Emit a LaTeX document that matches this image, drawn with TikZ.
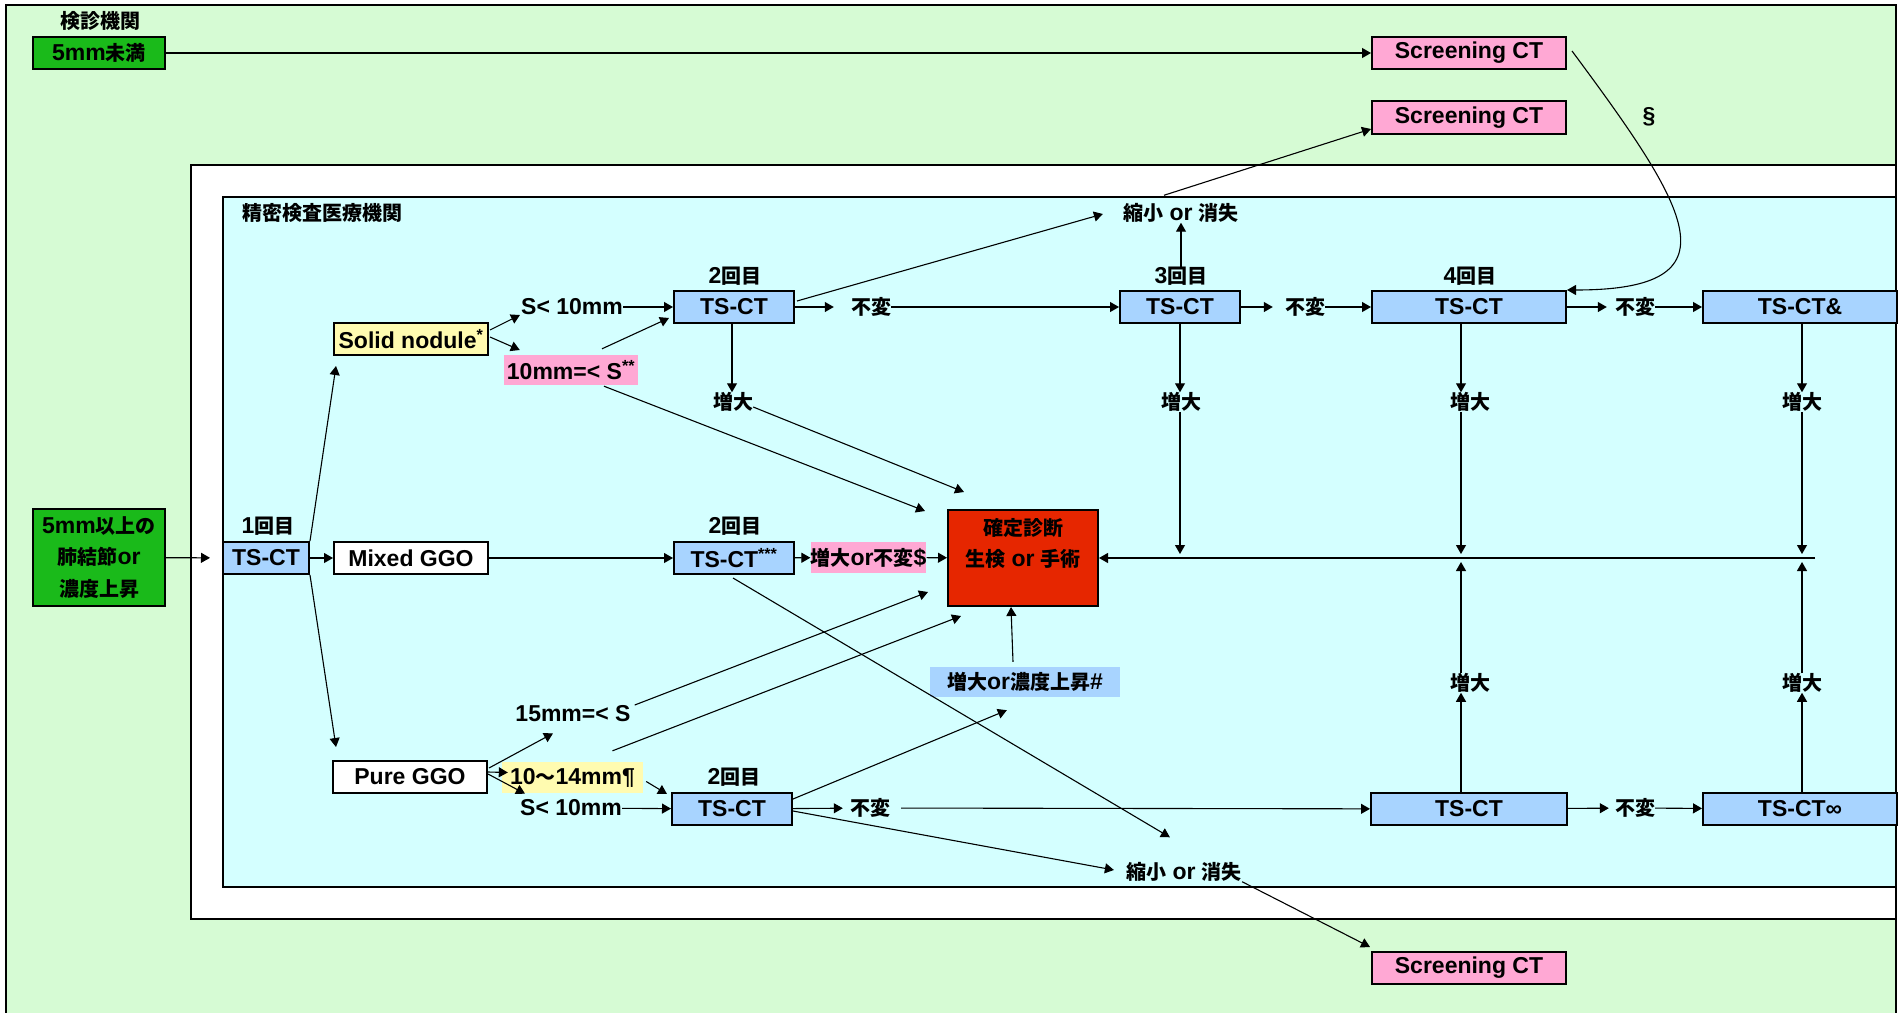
\documentclass[tikz,border=0pt]{standalone}
\usepackage{fontspec}
\setmainfont{Liberation Sans}[Scale=1.15]
\newfontfamily\jpfont{Noto Sans CJK JP}
\newcommand{\ja}[1]{{\jpfont #1}}
\usetikzlibrary{arrows.meta,calc}

\definecolor{bggreen}{RGB}{214,251,212}
\definecolor{bgcyan}{RGB}{212,255,255}
\definecolor{boxgreen}{RGB}{26,186,26}
\definecolor{ctblue}{RGB}{168,212,255}
\definecolor{scrpink}{RGB}{255,168,212}
\definecolor{dxred}{RGB}{230,38,0}
\definecolor{noteyel}{RGB}{255,251,176}

\tikzset{
  every node/.style={font=\fontsize{20}{24}\selectfont\bfseries, inner sep=0pt},
  box/.style={draw, line width=2pt, minimum height=32pt, align=center},
  ctbox/.style={box, fill=ctblue},
  scrbox/.style={box, fill=scrpink, minimum width=194pt},
  note/.style={minimum height=30pt},
  arr/.style={-{Triangle[length=9pt,width=10pt]}, line width=1.1pt},
}

\begin{document}
\begin{tikzpicture}[x=1pt,y=-1pt]
\useasboundingbox (0,0) rectangle (1898,1012);

% Frames
\begin{scope}
\clip (0,0) rectangle (1898,1012);
\draw[line width=2pt, fill=bggreen] (6,5) rectangle (1896,1040);
\draw[line width=2pt, fill=white] (191,165) rectangle (1896,919);
\draw[line width=2pt, fill=bgcyan] (223,197) rectangle (1896,887);
\end{scope}
\node (kenshin) at (100,21) {\ja{検診機関}};
\node (seimitsu) at (322,213) {\ja{精密検査医療機関}};

% Screening
\node[box, fill=boxgreen, minimum width=132pt] (small) at (99,53) {5mm\ja{未満}};
\node[scrbox] (scr1) at (1469,53) {Screening CT};
\node[scrbox, minimum height=33pt] (scr2) at (1469,117.5) {Screening CT};
\node[scrbox] (scr3) at (1469,968) {Screening CT};
\node (sect) at (1649,117) {§};

% First CT and types
\node[box, fill=boxgreen, minimum width=132pt, minimum height=97pt,
  font=\fontsize{20}{31.5}\selectfont\bfseries] (big) at (99,557.5)
  {5mm\ja{以上の}\\\ja{肺結節}or\\\ja{濃度上昇}};
\node[ctbox, minimum width=86pt] (ts1) at (266,558) {TS-CT};
\node (r1) at (268,526) {1\ja{回目}};
\node[box, fill=noteyel, minimum width=154pt] (solid) at (411,339) {Solid nodule\textsuperscript{*}};
\node[box, fill=white, minimum width=154pt] (mixed) at (411,558) {Mixed GGO};
\node[box, fill=white, minimum width=154pt] (pure) at (410,777) {Pure GGO};

% Size notes
\node (s10a) at (572,307) {S< 10mm};
\node[note, fill=scrpink, minimum width=134pt] (szS) at (571,370) {10mm=< S\textsuperscript{**}};
\node (s15) at (573,714) {15mm=< S};
\node[note, fill=noteyel, minimum width=141pt, minimum height=31pt] (y1014) at (572.5,777.5) {10\ja{〜}14mm¶};
\node (s10b) at (571,808) {S< 10mm};

% Top row
\node[ctbox, minimum width=120pt] (ts2a) at (734,307) {TS-CT};
\node (r2a) at (735,276) {2\ja{回目}};
\node (nc1) at (871,307) {\ja{不変}};
\node[ctbox, minimum width=120pt] (ts3) at (1180,307) {TS-CT};
\node (r3) at (1181,276) {3\ja{回目}};
\node (nc2) at (1305,307) {\ja{不変}};
\node[ctbox, minimum width=194pt] (ts4) at (1469,307) {TS-CT};
\node (r4) at (1470,276) {4\ja{回目}};
\node (nc3) at (1635,307) {\ja{不変}};
\node[ctbox, minimum width=194pt] (ts5) at (1800,307) {TS-CT\&};
\node (shrinkA) at (1181,213) {\ja{縮小} or \ja{消失}};
\node (up2) at (733,402) {\ja{増大}};
\node (up3) at (1181,402) {\ja{増大}};
\node (up4) at (1470,402) {\ja{増大}};
\node (up5) at (1802,402) {\ja{増大}};

% Middle row
\node[ctbox, minimum width=120pt] (ts2b) at (734,558) {TS-CT\textsuperscript{***}};
\node (r2b) at (735,526) {2\ja{回目}};
\node[note, fill=scrpink, minimum width=113pt, minimum height=31pt] (chg) at (868.5,557.5) {\ja{増大}or\ja{不変}\$};
\node[box, fill=dxred, minimum width=150pt, minimum height=96pt,
  font=\fontsize{20}{31}\selectfont\bfseries] (dx) at (1023,558)
  {\ja{確定診断}\\\ja{生検} or \ja{手術}\\\mbox{}};
\node[note, fill=ctblue, minimum width=190pt] (blue) at (1025,682) {\ja{増大}or\ja{濃度上昇}\#};

% Bottom row
\node[ctbox, minimum width=120pt] (ts2c) at (732,809) {TS-CT};
\node (r2c) at (734,777) {2\ja{回目}};
\node (nc4) at (870,808) {\ja{不変}};
\node[ctbox, minimum width=196pt] (tsb4) at (1469,809) {TS-CT};
\node (nc5) at (1635,808) {\ja{不変}};
\node[ctbox, minimum width=194pt] (tsb5) at (1800,809) {TS-CT∞};
\node (dn4) at (1470,683) {\ja{増大}};
\node (dn5) at (1802,683) {\ja{増大}};
\node (shrinkB) at (1184,872) {\ja{縮小} or \ja{消失}};

% Columns
\coordinate (col2) at (732,0);
\coordinate (col3) at (1180,0);
\coordinate (col4) at (1461,0);
\coordinate (col5) at (1802,0);
\coordinate (hr) at (1815,558);

% Screening arrows
\draw[arr] (small) -- (scr1);
\draw[arr] ($(scr1.east)+(5,-2)$) .. controls (1690,210) and (1740,290) .. (ts4.north east);
\draw[arr] ($(shrinkA.north)+(-17,-8)$) -- ($(scr2.south west)+(0,-6)$);
\draw[arr] (shrinkB.south east) -- ($(scr3.north west)+(-1,-4)$);

% First CT
\draw[arr, shorten >=12pt] (big) -- (ts1);
\draw[arr] (ts1) -- (mixed);
\draw[arr] (ts1.north east) -- ($(solid.south west)+(3,10)$);
\draw[arr] (ts1.south east) -- ($(pure.north west)+(4,-13)$);

% Solid nodule
\draw[arr] ($(solid.east)+(1,-9)$) -- ($(s10a.west)+(-1,8)$);
\draw[arr] ($(solid.east)+(1,-2)$) -- ($(szS.west)+(16,-20)$);
\draw[arr] (s10a) -- (ts2a);
\draw[arr] ($(szS.north)+(31,-6)$) -- ($(ts2a.south west)+(-4,-6)$);
\draw[arr] ($(szS.south)+(33,1)$) -- ($(dx.north west)+(-22,2)$);

% Top row
\draw[arr, shorten >=17pt] (ts2a) -- (nc1);
\draw[arr] (nc1) -- (ts3);
\draw[arr] ($(ts2a.north east)+(2,11)$) -- ($(shrinkA.west)+(-20,1)$);
\draw[arr] (r3.north) -- (shrinkA.south);
\draw[arr, shorten >=12pt] (ts3) -- (nc2);
\draw[arr] (nc2) -- (ts4);
\draw[arr, shorten >=8pt] (ts4) -- (nc3);
\draw[arr] (nc3) -- (ts5);
\draw[arr] (col2 |- ts2a.south) -- (col2 |- up2.north);
\draw[arr] ($(up2.east)+(0,5)$) -- ($(dx.north west)+(17,-17)$);
\draw[arr] (col3 |- ts3.south) -- (col3 |- up3.north);
\draw[arr] (col4 |- ts4.south) -- (col4 |- up4.north);
\draw[arr] (col5 |- ts5.south) -- (col5 |- up5.north);
\draw[arr] (col3 |- up3.south) -- ($(col3 |- hr)+(0,-4)$);
\draw[arr] (col4 |- up4.south) -- ($(col4 |- hr)+(0,-4)$);
\draw[arr] (col5 |- up5.south) -- ($(col5 |- hr)+(0,-4)$);
\draw[arr] (hr) -- (dx);

% Middle row
\draw[arr] (mixed) -- (ts2b);
\draw[arr] (ts2b) -- (chg);
\draw[arr] (chg) -- (dx);
\draw[arr] ($(ts2b.south)+(-1,3)$) -- ($(shrinkB.north west)+(44,-25)$);

% Pure GGO
\draw[arr] ($(pure.east)+(0,-5)$) -- ($(y1014.west)+(6,-5)$);
\draw[arr] ($(pure.east)+(1,-9)$) -- ($(s15.south)+(-20,11)$);
\draw[arr] ($(pure.east)+(0,-3)$) -- ($(s10b.north west)+(5,-6)$);
\draw[arr] (s10b) -- (ts2c);
\draw[arr] ($(y1014.east)+(3,4)$) -- ($(ts2c.north west)+(-4,2)$);
\draw[arr] ($(s15.east)+(4,-9)$) -- ($(dx.south west)+(-19,-15)$);
\draw[arr] ($(y1014.north)+(40,-11)$) -- ($(dx.south west)+(14,9)$);
\draw[arr] ($(blue.north)+(-12,-5)$) -- ($(dx.south)+(-12,0)$);

% Bottom row
\draw[arr, shorten >=7pt] (ts2c) -- (nc4);
\draw[arr, shorten <=11pt] (nc4) -- (tsb4);
\draw[arr] ($(ts2c.north east)+(0,7)$) -- ($(blue.south west)+(77,13)$);
\draw[arr] ($(ts2c.east)+(0,2)$) -- ($(shrinkB.west)+(-12,-2)$);
\draw[arr, shorten >=6pt] (tsb4) -- (nc5);
\draw[arr] (nc5) -- (tsb5);
\draw[arr] (col4 |- tsb4.north) -- (col4 |- dn4.south);
\draw[arr] (col5 |- tsb5.north) -- (col5 |- dn5.south);
\draw[arr] (col4 |- dn4.north) -- ($(col4 |- hr)+(0,4)$);
\draw[arr] (col5 |- dn5.north) -- ($(col5 |- hr)+(0,4)$);

\end{tikzpicture}
\end{document}
